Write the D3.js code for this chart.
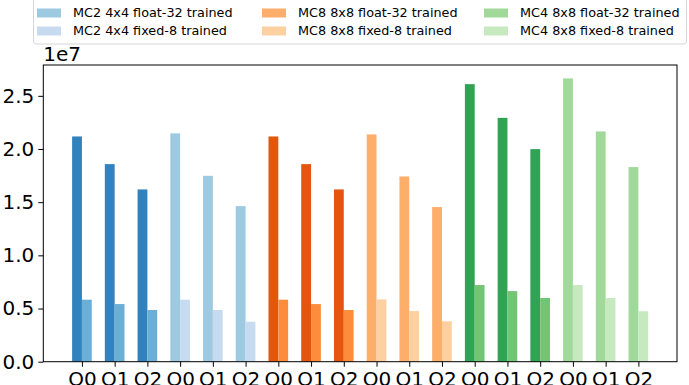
<!DOCTYPE html>
<html>
<head>
<meta charset="utf-8">
<script src="https://cdn.jsdelivr.net/npm/d3@7"></script>
<style>
  body { margin: 0; background: #fff; }
  svg { display: block; font-family: "DejaVu Sans", sans-serif; }
</style>
</head>
<body>
<div id="container"></div>
<script>
// optimisation levels, repeated for each configuration
const levels = ['O0', 'O1', 'O2'];
const configs = [
  'MC2 4x4 float-32 trained', 'MC2 4x4 fixed-8 trained',
  'MC8 8x8 float-32 trained', 'MC8 8x8 fixed-8 trained',
  'MC4 8x8 float-32 trained', 'MC4 8x8 fixed-8 trained'
];
// first (dark) bar and second (light) bar of each pair
const firstBar = [
  21180000, 18580000, 16200000,
  21470000, 17480000, 14630000,
  21180000, 18580000, 16200000,
  21370000, 17420000, 14540000,
  26100000, 22930000, 19990000,
  26640000, 21650000, 18300000
];
const secondBar = [
  5830000, 5420000, 4860000,
  5830000, 4860000, 3760000,
  5830000, 5420000, 4860000,
  5860000, 4760000, 3800000,
  7210000, 6640000, 5990000,
  7210000, 5990000, 4740000
];
const darkColors = ['#3182bd', '#9ecae1', '#e6550d', '#fdae6b', '#31a354', '#a1d99b'];
const lightColors = ['#6baed6', '#c6dbef', '#fd8d3c', '#fdd0a2', '#74c476', '#c7e9c0'];
const legendColors = ['#9ecae1', '#c6dbef', '#fdae6b', '#fdd0a2', '#a1d99b', '#c7e9c0'];

const W = 689, H = 385;
const margin = { left: 43.3, right: 12, top: 65, bottom: 23.3 };
const barW = 0.3;

const svg = d3.select('#container').append('svg')
  .attr('width', W).attr('height', H);

const n = firstBar.length;
const x = d3.scaleLinear()
  .domain([-barW - 0.88, n - 1 + barW + 0.88])
  .range([margin.left, W - margin.right]);
const y = d3.scaleLinear()
  .domain([0, 2.79e7])
  .range([H - margin.bottom, margin.top]);

const rows = firstBar.map((v, i) => ({
  i,
  first: v,
  second: secondBar[i],
  group: Math.floor(i / levels.length)
}));

// bars
svg.append('g').selectAll('rect.first')
  .data(rows).enter().append('rect')
  .attr('class', 'first')
  .attr('x', d => x(d.i - barW))
  .attr('width', x(barW) - x(0))
  .attr('y', d => y(d.first))
  .attr('height', d => y(0) - y(d.first))
  .attr('fill', d => darkColors[d.group]);

svg.append('g').selectAll('rect.second')
  .data(rows).enter().append('rect')
  .attr('class', 'second')
  .attr('x', d => x(d.i))
  .attr('width', x(barW) - x(0))
  .attr('y', d => y(d.second))
  .attr('height', d => y(0) - y(d.second))
  .attr('fill', d => lightColors[d.group]);

// axes
const yAxis = d3.axisLeft(y)
  .tickValues(d3.range(0, 2.51e7, 0.5e7))
  .tickFormat(d => (d / 1e7).toFixed(1))
  .tickSize(5).tickPadding(4);
svg.append('g')
  .attr('transform', `translate(${margin.left},0)`)
  .call(yAxis);

const xAxis = d3.axisBottom(x)
  .tickValues(d3.range(n))
  .tickFormat(i => levels[i % levels.length])
  .tickSize(5).tickPadding(5);
svg.append('g')
  .attr('transform', `translate(0,${y(0)})`)
  .call(xAxis);

svg.selectAll('.domain').remove();
svg.selectAll('.tick text')
  .attr('font-size', 20)
  .attr('font-family', '"DejaVu Sans", sans-serif')
  .attr('fill', '#000');
svg.selectAll('.tick line').attr('stroke', '#000');

// frame
svg.append('rect')
  .attr('x', margin.left).attr('y', margin.top)
  .attr('width', W - margin.right - margin.left)
  .attr('height', y(0) - margin.top)
  .attr('fill', 'none')
  .attr('stroke', '#000')
  .attr('stroke-width', 1);

// offset label
svg.append('text')
  .attr('x', margin.left)
  .attr('y', 61)
  .attr('font-size', 20)
  .text('1e7');

// legend
const legend = svg.append('g');
legend.append('rect')
  .attr('x', 33.5).attr('y', -6)
  .attr('width', 653).attr('height', 50)
  .attr('rx', 3)
  .attr('fill', '#fff').attr('fill-opacity', 0.8)
  .attr('stroke', '#d6d6d6');

const colX = [37, 262, 484];
const rowY = [13, 31];
const items = legend.selectAll('g.item')
  .data(configs).enter().append('g')
  .attr('class', 'item')
  .attr('transform', (d, i) => `translate(${colX[Math.floor(i / 2)]},${rowY[i % 2]})`);
items.append('rect')
  .attr('x', 0).attr('y', -4.5)
  .attr('width', 24).attr('height', 9)
  .attr('fill', (d, i) => legendColors[i]);
items.append('text')
  .attr('x', 36).attr('y', 0)
  .attr('dy', '0.35em')
  .attr('font-size', 12.8)
  .text(d => d);
</script>
</body>
</html>
